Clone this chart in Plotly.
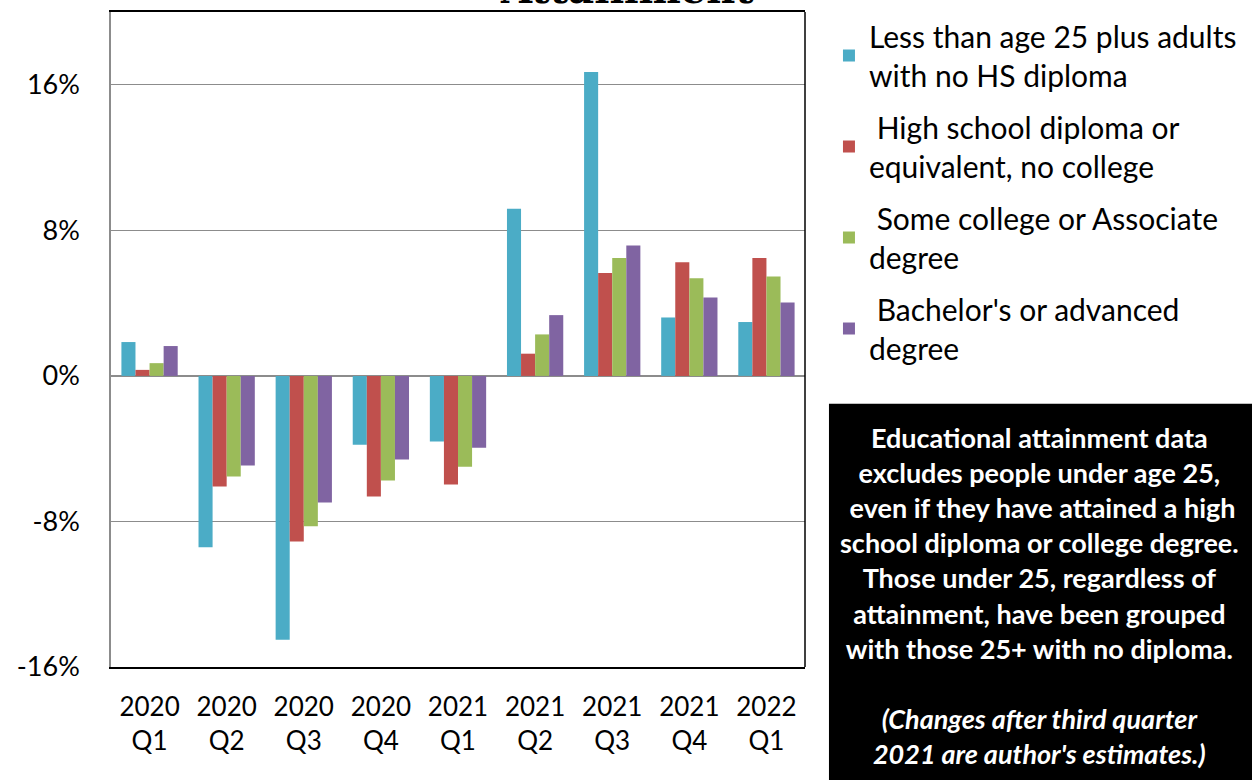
import plotly.graph_objects as go

categories = ["2020<br>Q1", "2020<br>Q2", "2020<br>Q3", "2020<br>Q4", "2021<br>Q1",
              "2021<br>Q2", "2021<br>Q3", "2021<br>Q4", "2022<br>Q1"]

series_names = [
    "Less than age 25 plus adults<br>with no HS diploma",
    " High school diploma or<br>equivalent, no college",
    " Some college or Associate<br>degree",
    " Bachelor's or advanced<br>degree",
]
no_hs = [1.86, -9.42, -14.5, -3.78, -3.6, 9.19, 16.7, 3.21, 2.96]
high_school = [0.33, -6.08, -9.1, -6.63, -5.97, 1.22, 5.66, 6.25, 6.48]
some_college = [0.7, -5.53, -8.27, -5.75, -4.99, 2.28, 6.48, 5.37, 5.46]
bachelors = [1.64, -4.93, -6.96, -4.6, -3.95, 3.34, 7.16, 4.31, 4.04]
colors = ["#4BACC6", "#C0504D", "#9BBB59", "#8064A2"]

y_ticks = [-16, -8, 0, 8, 16]
y_tick_labels = ["-16%", "-8%", "0%", "8%", "16%"]

note_text = ("<b>Educational attainment data<br>excludes people under age 25,<br>"
             " even if they have attained a high<br>school diploma or college degree.<br>"
             "Those under 25, regardless of<br>attainment, have been grouped<br>"
             "with those 25+ with no diploma.<br> <br>"
             "<i>(Changes after third quarter<br>2021 are author's estimates.)</i></b>")

FONT = "Lato"
W, H = 1252, 780
L, R, T, B = 111, 806, 10, 667

fig = go.Figure()
for i, (name, vals, c) in enumerate(zip(series_names,
                                         [no_hs, high_school, some_college, bachelors], colors)):
    fig.add_trace(go.Bar(x=categories, y=vals, name=name, marker_color=c,
                         marker_line_width=0, legendgroup=f"g{i}"))

def px_x(p):
    return (p - L) / (R - L)

def px_y(p):
    return (B - p) / (B - T)

fig.update_layout(
    width=W, height=H,
    margin=dict(l=L, r=W - R, t=T, b=H - B, pad=0),
    paper_bgcolor="white", plot_bgcolor="white",
    barmode="group", bargap=0.27, bargroupgap=0,
    font=dict(family=FONT, size=24, color="black"),
    showlegend=True,
    legend=dict(x=px_x(830), y=px_y(8), xanchor="left", yanchor="top",
                font=dict(size=30, family=FONT), itemwidth=30,
                tracegroupgap=10, bgcolor="rgba(0,0,0,0)"),
    xaxis=dict(showgrid=False, showline=True, linecolor="black", linewidth=1.5,
               mirror=True, ticks="", tickfont=dict(size=26), ticklabelstandoff=16),
    yaxis=dict(range=[-16, 20], tickvals=y_ticks, ticktext=y_tick_labels,
               showgrid=True, gridcolor="#8c8c8c", gridwidth=1.2,
               zeroline=True, zerolinecolor="#8c8c8c", zerolinewidth=1.5,
               showline=True, linecolor="#8c8c8c", linewidth=1.5, mirror=False,
               ticks="", ticklabelstandoff=24, tickfont=dict(size=27)),
    shapes=[
        dict(type="line", xref="paper", yref="paper", x0=1, x1=1, y0=0, y1=1,
             line=dict(color="black", width=1.5)),
        dict(type="rect", xref="paper", yref="paper",
             x0=px_x(830), x1=px_x(1260), y0=px_y(790), y1=px_y(403),
             fillcolor="black", line_width=0, layer="above"),
    ],
    annotations=[
        dict(text=note_text, xref="paper", yref="paper", x=px_x(1041), y=px_y(418),
             xanchor="center", yanchor="top", showarrow=False, align="center",
             font=dict(color="white", size=27, family=FONT)),
        dict(text="<b>Attainment</b>", xref="paper", yref="paper", x=px_x(628), y=px_y(12),
             xanchor="center", yanchor="bottom", showarrow=False,
             font=dict(color="black", size=40, family="DejaVu Serif")),
    ],
)

fig.write_html("out.html")
